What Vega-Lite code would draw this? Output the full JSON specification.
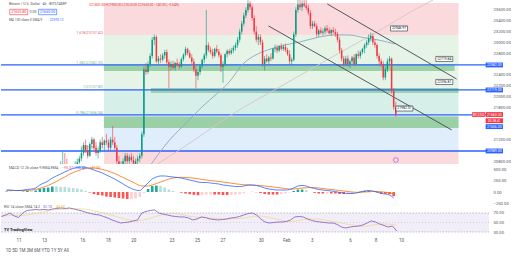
{
  "$schema": "https://vega.github.io/schema/vega-lite/v6.json",
  "padding": 0,
  "background": "white",
  "spacing": 0,
  "bounds": "flush",
  "config": {"font": "Roboto", "view": {"stroke": null}, "axis": {"labelOverlap": false}},
  "resolve": {"scale": {"y": "independent", "color": "independent"}},
  "datasets": {
    "candles": [
      {"t":"2023-01-14T00:00","o":20650,"h":20800,"l":20550,"c":20700},
      {"t":"2023-01-14T04:00","o":20700,"h":20980,"l":20650,"c":20750},
      {"t":"2023-01-14T08:00","o":20750,"h":20950,"l":20600,"c":20650},
      {"t":"2023-01-14T12:00","o":20650,"h":20850,"l":20500,"c":20600},
      {"t":"2023-01-14T16:00","o":20600,"h":20700,"l":20450,"c":20550},
      {"t":"2023-01-14T20:00","o":20550,"h":20650,"l":20400,"c":20500},
      {"t":"2023-01-15T00:00","o":20500,"h":20700,"l":20400,"c":20650},
      {"t":"2023-01-15T04:00","o":20650,"h":20800,"l":20550,"c":20700},
      {"t":"2023-01-15T08:00","o":20700,"h":20850,"l":20600,"c":20780},
      {"t":"2023-01-15T12:00","o":20780,"h":20900,"l":20700,"c":20850},
      {"t":"2023-01-15T16:00","o":20850,"h":21050,"l":20800,"c":20950},
      {"t":"2023-01-15T20:00","o":20950,"h":21150,"l":20900,"c":21100},
      {"t":"2023-01-16T00:00","o":21100,"h":21200,"l":20950,"c":21000},
      {"t":"2023-01-16T04:00","o":21000,"h":21100,"l":20850,"c":20900},
      {"t":"2023-01-16T08:00","o":20900,"h":21150,"l":20880,"c":21120},
      {"t":"2023-01-16T12:00","o":21120,"h":21250,"l":21050,"c":21200},
      {"t":"2023-01-16T16:00","o":21200,"h":21230,"l":21000,"c":21050},
      {"t":"2023-01-16T20:00","o":21050,"h":21150,"l":20900,"c":20950},
      {"t":"2023-01-17T00:00","o":20950,"h":21050,"l":20850,"c":21000},
      {"t":"2023-01-17T04:00","o":21000,"h":21200,"l":20950,"c":21150},
      {"t":"2023-01-17T08:00","o":21150,"h":21250,"l":21050,"c":21100},
      {"t":"2023-01-17T12:00","o":21100,"h":21200,"l":21000,"c":21180},
      {"t":"2023-01-17T16:00","o":21180,"h":21300,"l":21100,"c":21150},
      {"t":"2023-01-17T20:00","o":21150,"h":21200,"l":21000,"c":21050},
      {"t":"2023-01-18T00:00","o":21050,"h":21250,"l":21000,"c":21200},
      {"t":"2023-01-18T04:00","o":21200,"h":21450,"l":21100,"c":21150},
      {"t":"2023-01-18T08:00","o":21150,"h":21250,"l":21000,"c":21050},
      {"t":"2023-01-18T12:00","o":21050,"h":21100,"l":20750,"c":20800},
      {"t":"2023-01-18T16:00","o":20800,"h":20900,"l":20650,"c":20700},
      {"t":"2023-01-18T20:00","o":20700,"h":20800,"l":20600,"c":20750},
      {"t":"2023-01-19T00:00","o":20750,"h":20850,"l":20650,"c":20800},
      {"t":"2023-01-19T04:00","o":20800,"h":20950,"l":20750,"c":20900},
      {"t":"2023-01-19T08:00","o":20900,"h":20950,"l":20750,"c":20800},
      {"t":"2023-01-19T12:00","o":20800,"h":20920,"l":20700,"c":20880},
      {"t":"2023-01-19T16:00","o":20880,"h":20950,"l":20780,"c":20820},
      {"t":"2023-01-19T20:00","o":20820,"h":20900,"l":20700,"c":20750},
      {"t":"2023-01-20T00:00","o":20750,"h":20850,"l":20650,"c":20800},
      {"t":"2023-01-20T04:00","o":20800,"h":20900,"l":20700,"c":20850},
      {"t":"2023-01-20T08:00","o":20850,"h":20950,"l":20780,"c":20900},
      {"t":"2023-01-20T12:00","o":20900,"h":21350,"l":20850,"c":21300},
      {"t":"2023-01-20T16:00","o":21300,"h":22550,"l":21250,"c":22500},
      {"t":"2023-01-20T20:00","o":22500,"h":22620,"l":22400,"c":22450},
      {"t":"2023-01-21T00:00","o":22450,"h":22650,"l":22420,"c":22600},
      {"t":"2023-01-21T04:00","o":22600,"h":22800,"l":22550,"c":22750},
      {"t":"2023-01-21T08:00","o":22750,"h":23100,"l":22700,"c":23050},
      {"t":"2023-01-21T12:00","o":23050,"h":23150,"l":22950,"c":23100},
      {"t":"2023-01-21T16:00","o":23100,"h":23130,"l":22620,"c":22650},
      {"t":"2023-01-21T20:00","o":22650,"h":22750,"l":22600,"c":22700},
      {"t":"2023-01-22T00:00","o":22700,"h":22780,"l":22620,"c":22680},
      {"t":"2023-01-22T04:00","o":22680,"h":22800,"l":22650,"c":22760},
      {"t":"2023-01-22T08:00","o":22760,"h":22860,"l":22700,"c":22820},
      {"t":"2023-01-22T12:00","o":22820,"h":22870,"l":22600,"c":22630},
      {"t":"2023-01-22T16:00","o":22630,"h":22680,"l":22150,"c":22550},
      {"t":"2023-01-22T20:00","o":22550,"h":22650,"l":22480,"c":22600},
      {"t":"2023-01-23T00:00","o":22600,"h":22660,"l":22500,"c":22530},
      {"t":"2023-01-23T04:00","o":22530,"h":22640,"l":22480,"c":22620},
      {"t":"2023-01-23T08:00","o":22620,"h":22700,"l":22560,"c":22580},
      {"t":"2023-01-23T12:00","o":22580,"h":22640,"l":22500,"c":22550},
      {"t":"2023-01-23T16:00","o":22550,"h":22720,"l":22530,"c":22690},
      {"t":"2023-01-23T20:00","o":22690,"h":22800,"l":22650,"c":22770},
      {"t":"2023-01-24T00:00","o":22770,"h":22920,"l":22740,"c":22880},
      {"t":"2023-01-24T04:00","o":22880,"h":22900,"l":22760,"c":22800},
      {"t":"2023-01-24T08:00","o":22800,"h":22850,"l":22700,"c":22720},
      {"t":"2023-01-24T12:00","o":22720,"h":22780,"l":22600,"c":22640},
      {"t":"2023-01-24T16:00","o":22640,"h":22700,"l":22450,"c":22500},
      {"t":"2023-01-24T20:00","o":22500,"h":22560,"l":22150,"c":22380},
      {"t":"2023-01-25T00:00","o":22380,"h":22500,"l":22300,"c":22450},
      {"t":"2023-01-25T04:00","o":22450,"h":22600,"l":22400,"c":22560},
      {"t":"2023-01-25T08:00","o":22560,"h":22700,"l":22520,"c":22680},
      {"t":"2023-01-25T12:00","o":22680,"h":22800,"l":22620,"c":22760},
      {"t":"2023-01-25T16:00","o":22760,"h":23600,"l":22700,"c":22950},
      {"t":"2023-01-25T20:00","o":22950,"h":23000,"l":22820,"c":22860},
      {"t":"2023-01-26T00:00","o":22860,"h":22920,"l":22780,"c":22820},
      {"t":"2023-01-26T04:00","o":22820,"h":22880,"l":22700,"c":22750},
      {"t":"2023-01-26T08:00","o":22750,"h":22900,"l":22720,"c":22880},
      {"t":"2023-01-26T12:00","o":22880,"h":22950,"l":22800,"c":22830},
      {"t":"2023-01-26T16:00","o":22830,"h":22880,"l":22720,"c":22760},
      {"t":"2023-01-26T20:00","o":22760,"h":22800,"l":22450,"c":22550},
      {"t":"2023-01-27T00:00","o":22550,"h":22650,"l":22250,"c":22600},
      {"t":"2023-01-27T04:00","o":22600,"h":22800,"l":22560,"c":22780},
      {"t":"2023-01-27T08:00","o":22780,"h":22870,"l":22720,"c":22840},
      {"t":"2023-01-27T12:00","o":22840,"h":22880,"l":22760,"c":22800},
      {"t":"2023-01-27T16:00","o":22800,"h":22900,"l":22770,"c":22850},
      {"t":"2023-01-27T20:00","o":22850,"h":22940,"l":22800,"c":22900},
      {"t":"2023-01-28T00:00","o":22900,"h":23000,"l":22850,"c":22950},
      {"t":"2023-01-28T04:00","o":22950,"h":23100,"l":22900,"c":23050},
      {"t":"2023-01-28T08:00","o":23050,"h":23250,"l":23000,"c":23200},
      {"t":"2023-01-28T12:00","o":23200,"h":23400,"l":23150,"c":23350},
      {"t":"2023-01-28T16:00","o":23350,"h":23550,"l":23300,"c":23500},
      {"t":"2023-01-28T20:00","o":23500,"h":23650,"l":23450,"c":23600},
      {"t":"2023-01-29T00:00","o":23600,"h":23800,"l":23550,"c":23720},
      {"t":"2023-01-29T04:00","o":23720,"h":23760,"l":23600,"c":23650},
      {"t":"2023-01-29T08:00","o":23650,"h":23700,"l":23400,"c":23450},
      {"t":"2023-01-29T12:00","o":23450,"h":23500,"l":23150,"c":23200},
      {"t":"2023-01-29T16:00","o":23200,"h":23300,"l":23000,"c":23050},
      {"t":"2023-01-29T20:00","o":23050,"h":23150,"l":22950,"c":23100},
      {"t":"2023-01-30T00:00","o":23100,"h":23150,"l":22950,"c":23000},
      {"t":"2023-01-30T04:00","o":23000,"h":23050,"l":22550,"c":22600},
      {"t":"2023-01-30T08:00","o":22600,"h":22750,"l":22480,"c":22700},
      {"t":"2023-01-30T12:00","o":22700,"h":22780,"l":22620,"c":22650},
      {"t":"2023-01-30T16:00","o":22650,"h":22750,"l":22600,"c":22720},
      {"t":"2023-01-30T20:00","o":22720,"h":22800,"l":22650,"c":22700},
      {"t":"2023-01-31T00:00","o":22700,"h":22900,"l":22680,"c":22880},
      {"t":"2023-01-31T04:00","o":22880,"h":22960,"l":22820,"c":22900},
      {"t":"2023-01-31T08:00","o":22900,"h":22950,"l":22800,"c":22850},
      {"t":"2023-01-31T12:00","o":22850,"h":22950,"l":22820,"c":22930},
      {"t":"2023-01-31T16:00","o":22930,"h":22980,"l":22850,"c":22880},
      {"t":"2023-01-31T20:00","o":22880,"h":22960,"l":22840,"c":22920},
      {"t":"2023-02-01T00:00","o":22920,"h":22980,"l":22820,"c":22860},
      {"t":"2023-02-01T04:00","o":22860,"h":22900,"l":22750,"c":22780},
      {"t":"2023-02-01T08:00","o":22780,"h":22850,"l":22600,"c":22650},
      {"t":"2023-02-01T12:00","o":22650,"h":22720,"l":22580,"c":22680},
      {"t":"2023-02-01T16:00","o":22680,"h":23200,"l":22650,"c":23150},
      {"t":"2023-02-01T20:00","o":23150,"h":23650,"l":23100,"c":23600},
      {"t":"2023-02-02T00:00","o":23600,"h":23800,"l":23550,"c":23700},
      {"t":"2023-02-02T04:00","o":23700,"h":23800,"l":23600,"c":23650},
      {"t":"2023-02-02T08:00","o":23650,"h":23780,"l":23580,"c":23720},
      {"t":"2023-02-02T12:00","o":23720,"h":23800,"l":23650,"c":23680},
      {"t":"2023-02-02T16:00","o":23680,"h":23780,"l":23600,"c":23640},
      {"t":"2023-02-02T20:00","o":23640,"h":23700,"l":23500,"c":23550},
      {"t":"2023-02-03T00:00","o":23550,"h":23600,"l":23250,"c":23300},
      {"t":"2023-02-03T04:00","o":23300,"h":23400,"l":23250,"c":23350},
      {"t":"2023-02-03T08:00","o":23350,"h":23400,"l":23280,"c":23300},
      {"t":"2023-02-03T12:00","o":23300,"h":23350,"l":23100,"c":23150},
      {"t":"2023-02-03T16:00","o":23150,"h":23250,"l":23100,"c":23220},
      {"t":"2023-02-03T20:00","o":23220,"h":23280,"l":23150,"c":23180},
      {"t":"2023-02-04T00:00","o":23180,"h":23250,"l":23130,"c":23200},
      {"t":"2023-02-04T04:00","o":23200,"h":23300,"l":23150,"c":23260},
      {"t":"2023-02-04T08:00","o":23260,"h":23320,"l":23180,"c":23220},
      {"t":"2023-02-04T12:00","o":23220,"h":23280,"l":23150,"c":23170},
      {"t":"2023-02-04T16:00","o":23170,"h":23250,"l":23120,"c":23230},
      {"t":"2023-02-04T20:00","o":23230,"h":23280,"l":23160,"c":23190},
      {"t":"2023-02-05T00:00","o":23190,"h":23250,"l":23100,"c":23150},
      {"t":"2023-02-05T04:00","o":23150,"h":23200,"l":23000,"c":23050},
      {"t":"2023-02-05T08:00","o":23050,"h":23100,"l":22800,"c":22850},
      {"t":"2023-02-05T12:00","o":22850,"h":22900,"l":22650,"c":22700},
      {"t":"2023-02-05T16:00","o":22700,"h":22750,"l":22550,"c":22600},
      {"t":"2023-02-05T20:00","o":22600,"h":22750,"l":22560,"c":22700},
      {"t":"2023-02-06T00:00","o":22700,"h":22760,"l":22550,"c":22600},
      {"t":"2023-02-06T04:00","o":22600,"h":22680,"l":22520,"c":22650},
      {"t":"2023-02-06T08:00","o":22650,"h":22750,"l":22600,"c":22720},
      {"t":"2023-02-06T12:00","o":22720,"h":22780,"l":22560,"c":22600},
      {"t":"2023-02-06T16:00","o":22600,"h":22800,"l":22580,"c":22780},
      {"t":"2023-02-06T20:00","o":22780,"h":22850,"l":22700,"c":22750},
      {"t":"2023-02-07T00:00","o":22750,"h":22850,"l":22700,"c":22820},
      {"t":"2023-02-07T04:00","o":22820,"h":22900,"l":22780,"c":22880},
      {"t":"2023-02-07T08:00","o":22880,"h":22980,"l":22800,"c":22950},
      {"t":"2023-02-07T12:00","o":22950,"h":23050,"l":22900,"c":23000},
      {"t":"2023-02-07T16:00","o":23000,"h":23150,"l":22950,"c":23080},
      {"t":"2023-02-07T20:00","o":23080,"h":23180,"l":23020,"c":23120},
      {"t":"2023-02-08T00:00","o":23120,"h":23160,"l":22950,"c":23000},
      {"t":"2023-02-08T04:00","o":23000,"h":23050,"l":22900,"c":22950},
      {"t":"2023-02-08T08:00","o":22950,"h":22980,"l":22700,"c":22750},
      {"t":"2023-02-08T12:00","o":22750,"h":22800,"l":22600,"c":22650},
      {"t":"2023-02-08T16:00","o":22650,"h":22700,"l":22550,"c":22600},
      {"t":"2023-02-08T20:00","o":22600,"h":22650,"l":22300,"c":22350},
      {"t":"2023-02-09T00:00","o":22350,"h":22550,"l":22300,"c":22500},
      {"t":"2023-02-09T04:00","o":22500,"h":22700,"l":22450,"c":22650},
      {"t":"2023-02-09T08:00","o":22650,"h":22750,"l":22580,"c":22700},
      {"t":"2023-02-09T12:00","o":22700,"h":22720,"l":22050,"c":22100},
      {"t":"2023-02-09T16:00","o":22100,"h":22150,"l":21750,"c":21800},
      {"t":"2023-02-09T20:00","o":21800,"h":21900,"l":21620,"c":21660}
    ],
    "zones": [
      {"zone":"1.618-2","t1":"2023-01-17T11:14","t2":"2023-02-14T20:36","p1":23137,"p2":23730},
      {"zone":"1.382-1.618","t1":"2023-01-17T11:14","t2":"2023-02-14T20:36","p1":22582,"p2":23137},
      {"zone":"1-1.382","t1":"2023-01-17T11:14","t2":"2023-02-14T20:36","p1":22137,"p2":22582},
      {"zone":"0.786-1","t1":"2023-01-17T11:14","t2":"2023-02-14T20:36","p1":21656,"p2":22137},
      {"zone":"0.5-0.786","t1":"2023-01-17T11:14","t2":"2023-02-14T20:36","p1":21007,"p2":21656},
      {"zone":"0-0.5","t1":"2023-01-17T11:14","t2":"2023-02-14T20:36","p1":20748,"p2":21007}
    ],
    "strips": [
      {"name":"support A","t1":"2023-01-17T11:14","t2":"2023-02-14T13:06","p1":22470,"p2":22590},
      {"name":"support B","t1":"2023-01-21T05:36","t2":"2023-02-14T20:36","p1":22063,"p2":22156},
      {"name":"support C","t1":"2023-01-17T11:14","t2":"2023-02-14T20:36","p1":21415,"p2":21628}
    ],
    "levels": [
      {"ratio":"1.618","p":23137,"label":"1.618(23137.42)"},
      {"ratio":"1.382","p":22582,"label":"1.382(22582.35)"},
      {"ratio":"1","p":22137,"label":"1(22137.80)"},
      {"ratio":"0.786","p":21656,"label":"0.786(21656.04)"},
      {"ratio":"0.5","p":21007,"label":"0.5(21007.11)"}
    ],
    "hlines": [
      {"p":22582,"label":"22582.00"},
      {"p":22119,"label":"22119.00"},
      {"p":21656,"label":"21656.00"},
      {"p":20989,"label":"20989.00"}
    ],
    "ma": [
      {"ma":"MA 100","t":"2023-01-21T00:56","p":20674},
      {"ma":"MA 100","t":"2023-01-22T17:24","p":21193},
      {"ma":"MA 100","t":"2023-01-24T03:12","p":21526},
      {"ma":"MA 100","t":"2023-01-25T07:30","p":21804},
      {"ma":"MA 100","t":"2023-01-26T11:42","p":22044},
      {"ma":"MA 100","t":"2023-01-27T10:18","p":22248},
      {"ma":"MA 100","t":"2023-01-28T16:24","p":22619},
      {"ma":"MA 100","t":"2023-01-29T15:00","p":22767},
      {"ma":"MA 100","t":"2023-01-30T13:36","p":22859},
      {"ma":"MA 100","t":"2023-01-31T23:30","p":22952},
      {"ma":"MA 100","t":"2023-02-02T03:42","p":23008},
      {"ma":"MA 100","t":"2023-02-03T17:24","p":23100},
      {"ma":"MA 100","t":"2023-02-04T21:36","p":23137},
      {"ma":"MA 100","t":"2023-02-06T01:48","p":23137},
      {"ma":"MA 100","t":"2023-02-07T09:48","p":23082},
      {"ma":"MA 100","t":"2023-02-08T10:18","p":23045},
      {"ma":"MA 100","t":"2023-02-09T18:18","p":22970},
      {"ma":"MA 200","t":"2023-01-21T05:36","p":20674},
      {"ma":"MA 200","t":"2023-01-23T12:12","p":21007},
      {"ma":"MA 200","t":"2023-01-27T21:36","p":21693},
      {"ma":"MA 200","t":"2023-01-31T19:42","p":22211},
      {"ma":"MA 200","t":"2023-02-04T17:48","p":22730},
      {"ma":"MA 200","t":"2023-02-07T21:06","p":23137},
      {"ma":"MA 200","t":"2023-02-12T08:24","p":23730},
      {"ma":"MA 200","t":"2023-02-12T19:42","p":23785}
    ],
    "channel": [
      {"name":"upper","t1":"2023-02-04T08:24","p1":23711,"t2":"2023-02-14T16:54","p2":22322},
      {"name":"lower","t1":"2023-01-30T15:30","p1":23304,"t2":"2023-02-14T07:30","p2":21378}
    ],
    "callouts": [
      {"label":"22946.97","t":"2023-02-10T02:18","p":23258},
      {"label":"22719.84","t":"2023-02-13T17:18","p":22693},
      {"label":"22396.81","t":"2023-02-13T17:18","p":22267},
      {"label":"21982.37","t":"2023-02-10T12:36","p":21776}
    ],
    "ind": [
      {"t":"2023-01-09T16:00","m":45,"s":34,"h":11,"trend":"up","r":62.6,"rm":64},
      {"t":"2023-01-10T00:00","m":45,"s":34,"h":11,"trend":"down","r":65.8,"rm":64},
      {"t":"2023-01-10T08:00","m":34,"s":34,"h":0,"trend":"down","r":70,"rm":64.5},
      {"t":"2023-01-10T16:00","m":34,"s":34,"h":0,"trend":"down","r":63.7,"rm":65},
      {"t":"2023-01-11T00:00","m":45,"s":34,"h":11,"trend":"up","r":60.5,"rm":64.5},
      {"t":"2023-01-11T08:00","m":57,"s":34,"h":23,"trend":"up","r":70,"rm":65},
      {"t":"2023-01-11T16:00","m":68,"s":45,"h":23,"trend":"down","r":75.3,"rm":66},
      {"t":"2023-01-12T00:00","m":91,"s":57,"h":34,"trend":"up","r":76.3,"rm":67.5},
      {"t":"2023-01-12T08:00","m":159,"s":80,"h":79,"trend":"up","r":77.4,"rm":69},
      {"t":"2023-01-12T16:00","m":205,"s":114,"h":91,"trend":"up","r":76.3,"rm":70.5},
      {"t":"2023-01-13T00:00","m":250,"s":148,"h":102,"trend":"up","r":77.4,"rm":72.5},
      {"t":"2023-01-13T08:00","m":318,"s":193,"h":125,"trend":"up","r":76.3,"rm":74.5},
      {"t":"2023-01-13T16:00","m":364,"s":239,"h":125,"trend":"down","r":78.4,"rm":76},
      {"t":"2023-01-14T00:00","m":409,"s":295,"h":114,"trend":"down","r":79.5,"rm":77},
      {"t":"2023-01-14T08:00","m":455,"s":341,"h":114,"trend":"down","r":80.5,"rm":77.5},
      {"t":"2023-01-14T16:00","m":500,"s":398,"h":102,"trend":"down","r":79.5,"rm":78},
      {"t":"2023-01-15T00:00","m":534,"s":443,"h":91,"trend":"down","r":80.5,"rm":78.5},
      {"t":"2023-01-15T08:00","m":557,"s":477,"h":80,"trend":"down","r":78.4,"rm":79},
      {"t":"2023-01-15T16:00","m":568,"s":511,"h":57,"trend":"down","r":76.3,"rm":79},
      {"t":"2023-01-16T00:00","m":557,"s":534,"h":23,"trend":"down","r":74.2,"rm":78.5},
      {"t":"2023-01-16T08:00","m":534,"s":546,"h":-12,"trend":"down","r":71,"rm":77.5},
      {"t":"2023-01-16T16:00","m":500,"s":546,"h":-46,"trend":"down","r":68.9,"rm":76},
      {"t":"2023-01-17T00:00","m":466,"s":534,"h":-68,"trend":"down","r":66.8,"rm":74},
      {"t":"2023-01-17T08:00","m":432,"s":511,"h":-79,"trend":"down","r":65.8,"rm":72},
      {"t":"2023-01-17T16:00","m":386,"s":489,"h":-103,"trend":"down","r":62.6,"rm":70},
      {"t":"2023-01-18T00:00","m":341,"s":455,"h":-114,"trend":"down","r":59.5,"rm":67.5},
      {"t":"2023-01-18T08:00","m":295,"s":420,"h":-125,"trend":"down","r":55.3,"rm":65},
      {"t":"2023-01-18T16:00","m":239,"s":375,"h":-136,"trend":"down","r":52.1,"rm":62.5},
      {"t":"2023-01-19T00:00","m":182,"s":330,"h":-148,"trend":"down","r":48.9,"rm":60},
      {"t":"2023-01-19T08:00","m":125,"s":284,"h":-159,"trend":"down","r":50,"rm":57.5},
      {"t":"2023-01-19T16:00","m":80,"s":239,"h":-159,"trend":"up","r":51,"rm":55.5},
      {"t":"2023-01-20T00:00","m":45,"s":193,"h":-148,"trend":"up","r":53.2,"rm":54},
      {"t":"2023-01-20T08:00","m":34,"s":148,"h":-114,"trend":"up","r":55.3,"rm":53},
      {"t":"2023-01-20T16:00","m":114,"s":136,"h":-22,"trend":"up","r":70,"rm":54.5},
      {"t":"2023-01-21T00:00","m":205,"s":136,"h":69,"trend":"up","r":73.2,"rm":56.5},
      {"t":"2023-01-21T08:00","m":295,"s":159,"h":136,"trend":"up","r":75.3,"rm":59},
      {"t":"2023-01-21T16:00","m":341,"s":193,"h":148,"trend":"up","r":76.3,"rm":62},
      {"t":"2023-01-22T00:00","m":364,"s":227,"h":137,"trend":"down","r":70,"rm":64.5},
      {"t":"2023-01-22T08:00","m":364,"s":261,"h":103,"trend":"down","r":67.9,"rm":66.5},
      {"t":"2023-01-22T16:00","m":352,"s":295,"h":57,"trend":"down","r":65.8,"rm":68.5},
      {"t":"2023-01-23T00:00","m":341,"s":318,"h":23,"trend":"down","r":63.7,"rm":69.5},
      {"t":"2023-01-23T08:00","m":330,"s":330,"h":0,"trend":"down","r":62.6,"rm":69},
      {"t":"2023-01-23T16:00","m":318,"s":334,"h":-16,"trend":"down","r":61.6,"rm":67.5},
      {"t":"2023-01-24T00:00","m":295,"s":330,"h":-35,"trend":"down","r":61.6,"rm":65.5},
      {"t":"2023-01-24T08:00","m":273,"s":323,"h":-50,"trend":"down","r":59.5,"rm":63.5},
      {"t":"2023-01-24T16:00","m":250,"s":314,"h":-64,"trend":"down","r":55.3,"rm":62},
      {"t":"2023-01-25T00:00","m":227,"s":300,"h":-73,"trend":"down","r":57.4,"rm":61},
      {"t":"2023-01-25T08:00","m":216,"s":284,"h":-68,"trend":"up","r":61.6,"rm":60.5},
      {"t":"2023-01-25T16:00","m":216,"s":273,"h":-57,"trend":"up","r":60.5,"rm":60},
      {"t":"2023-01-26T00:00","m":205,"s":261,"h":-56,"trend":"up","r":57.4,"rm":59.5},
      {"t":"2023-01-26T08:00","m":193,"s":250,"h":-57,"trend":"down","r":56.3,"rm":59},
      {"t":"2023-01-26T16:00","m":182,"s":239,"h":-57,"trend":"down","r":55.3,"rm":58.5},
      {"t":"2023-01-27T00:00","m":159,"s":227,"h":-68,"trend":"down","r":56.3,"rm":58},
      {"t":"2023-01-27T08:00","m":148,"s":216,"h":-68,"trend":"down","r":57.4,"rm":57.5},
      {"t":"2023-01-27T16:00","m":136,"s":200,"h":-64,"trend":"up","r":59.5,"rm":57.5},
      {"t":"2023-01-28T00:00","m":125,"s":186,"h":-61,"trend":"up","r":60.5,"rm":58},
      {"t":"2023-01-28T08:00","m":125,"s":175,"h":-50,"trend":"up","r":62.6,"rm":58.5},
      {"t":"2023-01-28T16:00","m":136,"s":164,"h":-28,"trend":"up","r":65.8,"rm":59.5},
      {"t":"2023-01-29T00:00","m":159,"s":159,"h":0,"trend":"up","r":68.9,"rm":61},
      {"t":"2023-01-29T08:00","m":159,"s":155,"h":4,"trend":"up","r":70,"rm":62.5},
      {"t":"2023-01-29T16:00","m":148,"s":152,"h":-4,"trend":"down","r":65.8,"rm":63.5},
      {"t":"2023-01-30T00:00","m":125,"s":148,"h":-23,"trend":"down","r":57.4,"rm":63.5},
      {"t":"2023-01-30T08:00","m":91,"s":136,"h":-45,"trend":"down","r":51,"rm":62.5},
      {"t":"2023-01-30T16:00","m":68,"s":125,"h":-57,"trend":"down","r":48.9,"rm":60.5},
      {"t":"2023-01-31T00:00","m":57,"s":114,"h":-57,"trend":"down","r":50,"rm":58.5},
      {"t":"2023-01-31T08:00","m":45,"s":102,"h":-57,"trend":"down","r":51,"rm":56.5},
      {"t":"2023-01-31T16:00","m":45,"s":91,"h":-46,"trend":"up","r":51,"rm":54.5},
      {"t":"2023-02-01T00:00","m":45,"s":80,"h":-35,"trend":"up","r":52.1,"rm":52.5},
      {"t":"2023-02-01T08:00","m":57,"s":68,"h":-11,"trend":"up","r":55.3,"rm":52},
      {"t":"2023-02-01T16:00","m":91,"s":68,"h":23,"trend":"up","r":61.6,"rm":53},
      {"t":"2023-02-02T00:00","m":136,"s":80,"h":56,"trend":"up","r":62.6,"rm":54.5},
      {"t":"2023-02-02T08:00","m":148,"s":91,"h":57,"trend":"up","r":61.6,"rm":56},
      {"t":"2023-02-02T16:00","m":136,"s":95,"h":41,"trend":"down","r":57.4,"rm":57},
      {"t":"2023-02-03T00:00","m":102,"s":102,"h":0,"trend":"down","r":54.2,"rm":57.5},
      {"t":"2023-02-03T08:00","m":80,"s":100,"h":-20,"trend":"down","r":52.1,"rm":57.5},
      {"t":"2023-02-03T16:00","m":57,"s":91,"h":-34,"trend":"down","r":51,"rm":56.5},
      {"t":"2023-02-04T00:00","m":45,"s":80,"h":-35,"trend":"down","r":50,"rm":55},
      {"t":"2023-02-04T08:00","m":34,"s":68,"h":-34,"trend":"up","r":48.9,"rm":53.5},
      {"t":"2023-02-04T16:00","m":23,"s":57,"h":-34,"trend":"down","r":48.9,"rm":52},
      {"t":"2023-02-05T00:00","m":11,"s":45,"h":-34,"trend":"down","r":45.8,"rm":50.5},
      {"t":"2023-02-05T08:00","m":-11,"s":34,"h":-45,"trend":"down","r":40.5,"rm":49},
      {"t":"2023-02-05T16:00","m":-23,"s":23,"h":-46,"trend":"down","r":38.4,"rm":47},
      {"t":"2023-02-06T00:00","m":-34,"s":11,"h":-45,"trend":"up","r":40.5,"rm":45.5},
      {"t":"2023-02-06T08:00","m":-34,"s":0,"h":-34,"trend":"up","r":41.6,"rm":44},
      {"t":"2023-02-06T16:00","m":-23,"s":-7,"h":-16,"trend":"up","r":42.6,"rm":42.5},
      {"t":"2023-02-07T00:00","m":0,"s":-7,"h":7,"trend":"up","r":44.7,"rm":42},
      {"t":"2023-02-07T08:00","m":23,"s":0,"h":23,"trend":"up","r":48.9,"rm":42.5},
      {"t":"2023-02-07T16:00","m":34,"s":5,"h":29,"trend":"up","r":53.2,"rm":44},
      {"t":"2023-02-08T00:00","m":23,"s":11,"h":12,"trend":"down","r":51,"rm":45.5},
      {"t":"2023-02-08T08:00","m":0,"s":11,"h":-11,"trend":"down","r":46.8,"rm":46.5},
      {"t":"2023-02-08T16:00","m":-34,"s":5,"h":-39,"trend":"down","r":43.7,"rm":47},
      {"t":"2023-02-09T00:00","m":-45,"s":-5,"h":-40,"trend":"down","r":40.5,"rm":46.5},
      {"t":"2023-02-09T08:00","m":-68,"s":-18,"h":-50,"trend":"down","r":42.6,"rm":46},
      {"t":"2023-02-09T16:00","m":-136,"s":-41,"h":-95,"trend":"down","r":32.1,"rm":44.5}
    ]
  },
  "vconcat": [
    {
      "width": 488,
      "height": 164,
      "resolve": {"scale": {"color": "independent"}},
      "layer": [
        {
          "data": {"name": "zones"},
          "mark": {"type": "rect"},
          "encoding": {
            "x": {"field": "t1", "type": "temporal", "scale": {"domain": [{"year":2023,"month":1,"date":9,"hours":15},{"year":2023,"month":2,"date":16,"hours":21,"minutes":35}]}, "axis": null},
            "x2": {"field": "t2"},
            "y": {"field": "p1", "type": "quantitative", "scale": {"domain": [20748, 23785], "nice": false, "zero": false},
                  "axis": {"orient": "right", "values": [20800,21200,21800,22000,22200,22400,22800,23000,23200,23400,23600], "tickCount": 60, "format": ".2f", "labelFontSize": 4.2, "labelColor": "#50535e", "labelPadding": 4, "ticks": false, "domain": false, "grid": false, "title": null, "labelOverlap": false}},
            "y2": {"field": "p2"},
            "color": {"field": "zone", "type": "nominal", "legend": null,
                      "scale": {"domain": ["1.618-2","1.382-1.618","1-1.382","0.786-1","0.5-0.786","0-0.5"], "range": ["#fadadd","#e6f4e8","#e6f4e8","#d6efe8","#e0edfa","#fadadd"]}}
          }
        },
        {
          "data": {"name": "strips"},
          "mark": {"type": "rect", "color": "#97cfa2", "opacity": 0.95},
          "encoding": {
            "x": {"field": "t1", "type": "temporal", "scale": {"domain": [{"year":2023,"month":1,"date":9,"hours":15},{"year":2023,"month":2,"date":16,"hours":21,"minutes":35}]}, "axis": null},
            "x2": {"field": "t2"},
            "y": {"field": "p1", "type": "quantitative", "scale": {"domain": [20748, 23785], "nice": false, "zero": false}},
            "y2": {"field": "p2"}
          }
        },
        {
          "data": {"name": "levels"},
          "mark": {"type": "text", "align": "right", "baseline": "bottom", "fontSize": 3.6, "dx": -1, "dy": -0.3},
          "encoding": {
            "x": {"datum": {"year":2023,"month":1,"date":17,"hours":11,"minutes":14}, "type": "temporal", "scale": {"domain": [{"year":2023,"month":1,"date":9,"hours":15},{"year":2023,"month":2,"date":16,"hours":21,"minutes":35}]}, "axis": null},
            "y": {"field": "p", "type": "quantitative", "scale": {"domain": [20748, 23785], "nice": false, "zero": false}},
            "text": {"field": "label"},
            "color": {"field": "ratio", "type": "nominal", "legend": null,
                      "scale": {"domain": ["1.618","1.382","1","0.786","0.5"], "range": ["#e35d6a","#7fb98a","#7fb98a","#5fae9f","#8c9bb3"]}}
          }
        },
        {
          "data": {"name": "hlines"},
          "mark": {"type": "rule", "color": "#2962ff", "strokeWidth": 1.3},
          "encoding": {
            "y": {"field": "p", "type": "quantitative", "scale": {"domain": [20748, 23785], "nice": false, "zero": false}}
          }
        },
        {
          "data": {"name": "ma"},
          "transform": [{"filter": "datum.ma == 'MA 200'"}],
          "mark": {"type": "line", "color": "#d9c3cb", "strokeWidth": 0.9, "clip": true, "interpolate": "monotone"},
          "encoding": {
            "x": {"field": "t", "type": "temporal", "scale": {"domain": [{"year":2023,"month":1,"date":9,"hours":15},{"year":2023,"month":2,"date":16,"hours":21,"minutes":35}]}, "axis": null},
            "y": {"field": "p", "type": "quantitative", "scale": {"domain": [20748, 23785], "nice": false, "zero": false}}
          }
        },
        {
          "data": {"name": "ma"},
          "transform": [{"filter": "datum.ma == 'MA 100'"}],
          "mark": {"type": "line", "color": "#8ea4c2", "strokeWidth": 0.9, "clip": true, "interpolate": "monotone"},
          "encoding": {
            "x": {"field": "t", "type": "temporal", "scale": {"domain": [{"year":2023,"month":1,"date":9,"hours":15},{"year":2023,"month":2,"date":16,"hours":21,"minutes":35}]}, "axis": null},
            "y": {"field": "p", "type": "quantitative", "scale": {"domain": [20748, 23785], "nice": false, "zero": false}}
          }
        },
        {
          "data": {"name": "channel"},
          "mark": {"type": "rule", "color": "#434651", "strokeWidth": 0.9, "clip": true},
          "encoding": {
            "x": {"field": "t1", "type": "temporal", "scale": {"domain": [{"year":2023,"month":1,"date":9,"hours":15},{"year":2023,"month":2,"date":16,"hours":21,"minutes":35}]}, "axis": null},
            "x2": {"field": "t2"},
            "y": {"field": "p1", "type": "quantitative", "scale": {"domain": [20748, 23785], "nice": false, "zero": false}},
            "y2": {"field": "p2"}
          }
        },
        {
          "data": {"name": "candles"},
          "mark": {"type": "rule", "strokeWidth": 0.6, "clip": true},
          "encoding": {
            "x": {"field": "t", "type": "temporal", "scale": {"domain": [{"year":2023,"month":1,"date":9,"hours":15},{"year":2023,"month":2,"date":16,"hours":21,"minutes":35}]}, "axis": null},
            "y": {"field": "l", "type": "quantitative", "scale": {"domain": [20748, 23785], "nice": false, "zero": false}},
            "y2": {"field": "h"},
            "color": {"condition": {"test": "datum.c >= datum.o", "value": "#089981"}, "value": "#f23645"}
          }
        },
        {
          "data": {"name": "candles"},
          "mark": {"type": "bar", "size": 1.5, "clip": true},
          "encoding": {
            "x": {"field": "t", "type": "temporal", "scale": {"domain": [{"year":2023,"month":1,"date":9,"hours":15},{"year":2023,"month":2,"date":16,"hours":21,"minutes":35}]}, "axis": null},
            "y": {"field": "o", "type": "quantitative", "scale": {"domain": [20748, 23785], "nice": false, "zero": false}},
            "y2": {"field": "c"},
            "color": {"condition": {"test": "datum.c >= datum.o", "value": "#089981"}, "value": "#f23645"}
          }
        },
        {
          "data": {"name": "callouts"},
          "encoding": {
            "x": {"field": "t", "type": "temporal", "scale": {"domain": [{"year":2023,"month":1,"date":9,"hours":15},{"year":2023,"month":2,"date":16,"hours":21,"minutes":35}]}, "axis": null},
            "y": {"field": "p", "type": "quantitative", "scale": {"domain": [20748, 23785], "nice": false, "zero": false}}
          },
          "layer": [
            {"mark": {"type": "point", "shape": "M-1,-0.3H1V0.3H-1Z", "size": 289, "fill": "white", "stroke": "#2a2e39", "strokeWidth": 0.6, "opacity": 1}},
            {"mark": {"type": "text", "fontSize": 3.4, "color": "#131722"}, "encoding": {"text": {"field": "label"}}}
          ]
        },
        {
          "data": {"name": "hlines"},
          "transform": [{"filter": "datum.p != 21656"}],
          "encoding": {
            "x": {"datum": {"year":2023,"month":2,"date":17,"hours":17,"minutes":24}, "type": "temporal", "scale": {"domain": [{"year":2023,"month":1,"date":9,"hours":15},{"year":2023,"month":2,"date":16,"hours":21,"minutes":35}]}, "axis": null},
            "y": {"field": "p", "type": "quantitative", "scale": {"domain": [20748, 23785], "nice": false, "zero": false}}
          },
          "layer": [
            {"mark": {"type": "point", "shape": "M-1,-0.28H1V0.28H-1Z", "size": 300, "filled": true, "color": "#2962ff", "opacity": 1}},
            {"mark": {"type": "text", "fontSize": 3.5, "color": "white"}, "encoding": {"text": {"field": "label"}}}
          ]
        },
        {
          "data": {"values": [{"label": "21660.00"}]},
          "encoding": {
            "x": {"datum": {"year":2023,"month":2,"date":17,"hours":17,"minutes":24}, "type": "temporal", "scale": {"domain": [{"year":2023,"month":1,"date":9,"hours":15},{"year":2023,"month":2,"date":16,"hours":21,"minutes":35}]}, "axis": null},
            "y": {"datum": 21664, "type": "quantitative", "scale": {"domain": [20748, 23785], "nice": false, "zero": false}}
          },
          "layer": [
            {"mark": {"type": "point", "shape": "M-1,-0.28H1V0.28H-1Z", "size": 300, "filled": true, "color": "#f23645", "opacity": 1}},
            {"mark": {"type": "text", "fontSize": 3.5, "color": "white"}, "encoding": {"text": {"field": "label"}}}
          ]
        },
        {
          "data": {"values": [{"label": "03:38:41"}]},
          "encoding": {
            "x": {"datum": {"year":2023,"month":2,"date":17,"hours":17,"minutes":24}, "type": "temporal", "scale": {"domain": [{"year":2023,"month":1,"date":9,"hours":15},{"year":2023,"month":2,"date":16,"hours":21,"minutes":35}]}, "axis": null},
            "y": {"datum": 21550, "type": "quantitative", "scale": {"domain": [20748, 23785], "nice": false, "zero": false}}
          },
          "layer": [
            {"mark": {"type": "point", "shape": "M-1,-0.28H1V0.28H-1Z", "size": 300, "filled": true, "color": "#f23645", "opacity": 1}},
            {"mark": {"type": "text", "fontSize": 3.3, "color": "white"}, "encoding": {"text": {"field": "label"}}}
          ]
        },
        {
          "data": {"values": [{"label": "21656.00"}]},
          "encoding": {
            "x": {"datum": {"year":2023,"month":2,"date":17,"hours":17,"minutes":24}, "type": "temporal", "scale": {"domain": [{"year":2023,"month":1,"date":9,"hours":15},{"year":2023,"month":2,"date":16,"hours":21,"minutes":35}]}, "axis": null},
            "y": {"datum": 21440, "type": "quantitative", "scale": {"domain": [20748, 23785], "nice": false, "zero": false}}
          },
          "layer": [
            {"mark": {"type": "point", "shape": "M-1,-0.28H1V0.28H-1Z", "size": 300, "filled": true, "color": "#2962ff", "opacity": 1}},
            {"mark": {"type": "text", "fontSize": 3.5, "color": "white"}, "encoding": {"text": {"field": "label"}}}
          ]
        },
        {
          "data": {"values": [{"label": "BTCUSD"}]},
          "encoding": {
            "x": {"datum": {"year":2023,"month":2,"date":16,"hours":11,"minutes":12}, "type": "temporal", "scale": {"domain": [{"year":2023,"month":1,"date":9,"hours":15},{"year":2023,"month":2,"date":16,"hours":21,"minutes":35}]}, "axis": null},
            "y": {"datum": 21664, "type": "quantitative", "scale": {"domain": [20748, 23785], "nice": false, "zero": false}}
          },
          "layer": [
            {"mark": {"type": "point", "shape": "M-1,-0.36H1V0.36H-1Z", "size": 169, "filled": true, "color": "#f23645", "opacity": 1}},
            {"mark": {"type": "text", "fontSize": 3.2, "color": "white"}, "encoding": {"text": {"field": "label"}}}
          ]
        },
        {
          "data": {"values": [{"label": "Bitcoin / U.S. Dollar · 4h · BITSTAMP"}]},
          "mark": {"type": "text", "align": "left", "fontSize": 3.6, "color": "#50535e"},
          "encoding": {
            "x": {"datum": {"year":2023,"month":1,"date":9,"hours":20,"minutes":39}, "type": "temporal", "scale": {"domain": [{"year":2023,"month":1,"date":9,"hours":15},{"year":2023,"month":2,"date":16,"hours":21,"minutes":35}]}, "axis": null},
            "y": {"datum": 23702, "type": "quantitative", "scale": {"domain": [20748, 23785], "nice": false, "zero": false}},
            "text": {"field": "label"}
          }
        },
        {
          "data": {"values": [{"label": "O21800.00 H21900.00 L21620.00 C21660.00 −140.00 (−0.64%)"}]},
          "mark": {"type": "text", "align": "left", "fontSize": 3.2, "color": "#f23645"},
          "encoding": {
            "x": {"datum": {"year":2023,"month":1,"date":16,"hours":7}, "type": "temporal", "scale": {"domain": [{"year":2023,"month":1,"date":9,"hours":15},{"year":2023,"month":2,"date":16,"hours":21,"minutes":35}]}, "axis": null},
            "y": {"datum": 23702, "type": "quantitative", "scale": {"domain": [20748, 23785], "nice": false, "zero": false}},
            "text": {"field": "label"}
          }
        },
        {
          "data": {"values": [{"label": "21655.80"}]},
          "encoding": {
            "x": {"datum": {"year":2023,"month":1,"date":10,"hours":15,"minutes":28}, "type": "temporal", "scale": {"domain": [{"year":2023,"month":1,"date":9,"hours":15},{"year":2023,"month":2,"date":16,"hours":21,"minutes":35}]}, "axis": null},
            "y": {"datum": 23563, "type": "quantitative", "scale": {"domain": [20748, 23785], "nice": false, "zero": false}}
          },
          "layer": [
            {"mark": {"type": "point", "shape": "M-1,-0.3H1V0.3H-1Z", "size": 324, "fill": "white", "stroke": "#f23645", "strokeWidth": 0.6, "opacity": 1}},
            {"mark": {"type": "text", "fontSize": 3.6, "color": "#f23645"}, "encoding": {"text": {"field": "label"}}}
          ]
        },
        {
          "data": {"values": [{"label": "0.00"}]},
          "mark": {"type": "text", "fontSize": 3.6, "color": "#50535e"},
          "encoding": {
            "x": {"datum": {"year":2023,"month":1,"date":11,"hours":18,"minutes":46}, "type": "temporal", "scale": {"domain": [{"year":2023,"month":1,"date":9,"hours":15},{"year":2023,"month":2,"date":16,"hours":21,"minutes":35}]}, "axis": null},
            "y": {"datum": 23563, "type": "quantitative", "scale": {"domain": [20748, 23785], "nice": false, "zero": false}},
            "text": {"field": "label"}
          }
        },
        {
          "data": {"values": [{"label": "21660.00"}]},
          "encoding": {
            "x": {"datum": {"year":2023,"month":1,"date":12,"hours":23}, "type": "temporal", "scale": {"domain": [{"year":2023,"month":1,"date":9,"hours":15},{"year":2023,"month":2,"date":16,"hours":21,"minutes":35}]}, "axis": null},
            "y": {"datum": 23563, "type": "quantitative", "scale": {"domain": [20748, 23785], "nice": false, "zero": false}}
          },
          "layer": [
            {"mark": {"type": "point", "shape": "M-1,-0.3H1V0.3H-1Z", "size": 324, "fill": "white", "stroke": "#2962ff", "strokeWidth": 0.6, "opacity": 1}},
            {"mark": {"type": "text", "fontSize": 3.6, "color": "#2962ff"}, "encoding": {"text": {"field": "label"}}}
          ]
        },
        {
          "data": {"values": [{"label": "MA 100 close 0 SMA 9"}]},
          "mark": {"type": "text", "align": "left", "fontSize": 3.3, "color": "#50535e"},
          "encoding": {
            "x": {"datum": {"year":2023,"month":1,"date":9,"hours":20,"minutes":39}, "type": "temporal", "scale": {"domain": [{"year":2023,"month":1,"date":9,"hours":15},{"year":2023,"month":2,"date":16,"hours":21,"minutes":35}]}, "axis": null},
            "y": {"datum": 23415, "type": "quantitative", "scale": {"domain": [20748, 23785], "nice": false, "zero": false}},
            "text": {"field": "label"}
          }
        },
        {
          "data": {"values": [{"label": "22970.12"}]},
          "mark": {"type": "text", "align": "left", "fontSize": 3.3, "color": "#2962ff"},
          "encoding": {
            "x": {"datum": {"year":2023,"month":1,"date":13,"hours":3}, "type": "temporal", "scale": {"domain": [{"year":2023,"month":1,"date":9,"hours":15},{"year":2023,"month":2,"date":16,"hours":21,"minutes":35}]}, "axis": null},
            "y": {"datum": 23415, "type": "quantitative", "scale": {"domain": [20748, 23785], "nice": false, "zero": false}},
            "text": {"field": "label"}
          }
        },
        {
          "data": {"values": [{"event": "D"}]},
          "mark": {"type": "point", "shape": "circle", "size": 22, "fill": "#f3e5f5", "stroke": "#ab47bc", "strokeWidth": 0.7, "opacity": 1},
          "encoding": {
            "x": {"datum": {"year":2023,"month":2,"date":9,"hours":20,"minutes":12}, "type": "temporal", "scale": {"domain": [{"year":2023,"month":1,"date":9,"hours":15},{"year":2023,"month":2,"date":16,"hours":21,"minutes":35}]}, "axis": null},
            "y": {"datum": 20822, "type": "quantitative", "scale": {"domain": [20748, 23785], "nice": false, "zero": false}}
          }
        }
      ]
    },
    {
      "width": 488,
      "height": 41,
      "resolve": {"scale": {"color": "independent"}},
      "layer": [
        {
          "data": {"name": "ind"},
          "transform": [{"filter": "datum.h >= 0"}],
          "mark": {"type": "bar", "size": 2.6, "clip": true},
          "encoding": {
            "x": {"field": "t", "type": "temporal", "scale": {"domain": [{"year":2023,"month":1,"date":9,"hours":15},{"year":2023,"month":2,"date":16,"hours":21,"minutes":35}]}, "axis": null},
            "y": {"field": "h", "type": "quantitative", "scale": {"domain": [-295, 636], "nice": false, "zero": false},
                  "axis": {"orient": "right", "values": [-250, 0, 250, 500], "tickCount": 60, "format": ".2f", "labelFontSize": 4.2, "labelColor": "#50535e", "labelPadding": 4, "ticks": false, "domain": false, "grid": false, "title": null, "labelOverlap": false}},
            "y2": {"datum": 0},
            "color": {"field": "trend", "type": "nominal", "legend": null, "scale": {"domain": ["up", "down"], "range": ["#26a69a", "#b2dfdb"]}}
          }
        },
        {
          "data": {"name": "ind"},
          "transform": [{"filter": "datum.h < 0"}],
          "mark": {"type": "bar", "size": 2.6, "clip": true},
          "encoding": {
            "x": {"field": "t", "type": "temporal", "scale": {"domain": [{"year":2023,"month":1,"date":9,"hours":15},{"year":2023,"month":2,"date":16,"hours":21,"minutes":35}]}, "axis": null},
            "y": {"field": "h", "type": "quantitative", "scale": {"domain": [-295, 636], "nice": false, "zero": false}},
            "y2": {"datum": 0},
            "color": {"field": "trend", "type": "nominal", "legend": null, "scale": {"domain": ["down", "up"], "range": ["#ff5252", "#ffcdd2"]}}
          }
        },
        {
          "data": {"name": "ind"},
          "mark": {"type": "line", "color": "#ff6d00", "strokeWidth": 0.8, "clip": true, "interpolate": "monotone"},
          "encoding": {
            "x": {"field": "t", "type": "temporal", "scale": {"domain": [{"year":2023,"month":1,"date":9,"hours":15},{"year":2023,"month":2,"date":16,"hours":21,"minutes":35}]}, "axis": null},
            "y": {"field": "s", "type": "quantitative", "scale": {"domain": [-295, 636], "nice": false, "zero": false}}
          }
        },
        {
          "data": {"name": "ind"},
          "mark": {"type": "line", "color": "#2962ff", "strokeWidth": 0.8, "clip": true, "interpolate": "monotone"},
          "encoding": {
            "x": {"field": "t", "type": "temporal", "scale": {"domain": [{"year":2023,"month":1,"date":9,"hours":15},{"year":2023,"month":2,"date":16,"hours":21,"minutes":35}]}, "axis": null},
            "y": {"field": "m", "type": "quantitative", "scale": {"domain": [-295, 636], "nice": false, "zero": false}}
          }
        },
        {
          "data": {"values": [{"label": "MACD 12 26 close 9 EMA EMA"}]},
          "mark": {"type": "text", "align": "left", "fontSize": 3.6, "color": "#50535e"},
          "encoding": {
            "x": {"datum": {"year":2023,"month":1,"date":9,"hours":20,"minutes":39}, "type": "temporal", "scale": {"domain": [{"year":2023,"month":1,"date":9,"hours":15},{"year":2023,"month":2,"date":16,"hours":21,"minutes":35}]}, "axis": null},
            "y": {"datum": 545, "type": "quantitative", "scale": {"domain": [-295, 636], "nice": false, "zero": false}},
            "text": {"field": "label"}
          }
        },
        {
          "data": {"values": [{"label": "−95.37"}]},
          "mark": {"type": "text", "align": "left", "fontSize": 3.6, "color": "#ff5252"},
          "encoding": {
            "x": {"datum": {"year":2023,"month":1,"date":14,"hours":2,"minutes":18}, "type": "temporal", "scale": {"domain": [{"year":2023,"month":1,"date":9,"hours":15},{"year":2023,"month":2,"date":16,"hours":21,"minutes":35}]}, "axis": null},
            "y": {"datum": 545, "type": "quantitative", "scale": {"domain": [-295, 636], "nice": false, "zero": false}},
            "text": {"field": "label"}
          }
        },
        {
          "data": {"values": [{"label": "−136.42"}]},
          "mark": {"type": "text", "align": "left", "fontSize": 3.6, "color": "#2962ff"},
          "encoding": {
            "x": {"datum": {"year":2023,"month":1,"date":14,"hours":23}, "type": "temporal", "scale": {"domain": [{"year":2023,"month":1,"date":9,"hours":15},{"year":2023,"month":2,"date":16,"hours":21,"minutes":35}]}, "axis": null},
            "y": {"datum": 545, "type": "quantitative", "scale": {"domain": [-295, 636], "nice": false, "zero": false}},
            "text": {"field": "label"}
          }
        },
        {
          "data": {"values": [{"label": "−41.05"}]},
          "mark": {"type": "text", "align": "left", "fontSize": 3.6, "color": "#ff6d00"},
          "encoding": {
            "x": {"datum": {"year":2023,"month":1,"date":16,"hours":7}, "type": "temporal", "scale": {"domain": [{"year":2023,"month":1,"date":9,"hours":15},{"year":2023,"month":2,"date":16,"hours":21,"minutes":35}]}, "axis": null},
            "y": {"datum": 545, "type": "quantitative", "scale": {"domain": [-295, 636], "nice": false, "zero": false}},
            "text": {"field": "label"}
          }
        }
      ]
    },
    {
      "width": 488,
      "height": 29,
      "title": {"text": "1D   5D   1M   3M   6M   YTD   1Y   5Y   All", "orient": "bottom", "anchor": "start", "fontSize": 4.5, "fontWeight": "normal", "color": "#50535e", "offset": 6, "dx": 5},
      "layer": [
        {
          "data": {"values": [{"band": "30-70"}]},
          "mark": {"type": "rect", "color": "#7e57c2", "opacity": 0.1},
          "encoding": {
            "y": {"datum": 30, "type": "quantitative", "scale": {"domain": [25.8, 86.8], "nice": false, "zero": false},
                  "axis": {"orient": "right", "values": [30, 50, 70], "tickCount": 60, "format": ".2f", "labelFontSize": 4.2, "labelColor": "#50535e", "labelPadding": 4, "ticks": false, "domain": false, "grid": false, "title": null, "labelOverlap": false}},
            "y2": {"datum": 70}
          }
        },
        {
          "data": {"values": [{"level": 70}, {"level": 30}]},
          "mark": {"type": "rule", "color": "#9598a1", "strokeWidth": 0.6, "strokeDash": [1.5, 1.5]},
          "encoding": {
            "y": {"field": "level", "type": "quantitative", "scale": {"domain": [25.8, 86.8], "nice": false, "zero": false}}
          }
        },
        {
          "data": {"values": [{"level": 50}]},
          "mark": {"type": "rule", "color": "#b2b5be", "strokeWidth": 0.5, "strokeDash": [1, 2]},
          "encoding": {
            "y": {"field": "level", "type": "quantitative", "scale": {"domain": [25.8, 86.8], "nice": false, "zero": false}}
          }
        },
        {
          "data": {"name": "ind"},
          "mark": {"type": "line", "color": "#f2c94c", "strokeWidth": 0.7, "opacity": 0.7, "clip": true, "interpolate": "monotone"},
          "encoding": {
            "x": {"field": "t", "type": "temporal", "scale": {"domain": [{"year":2023,"month":1,"date":9,"hours":15},{"year":2023,"month":2,"date":16,"hours":21,"minutes":35}]}},
            "y": {"field": "rm", "type": "quantitative", "scale": {"domain": [25.8, 86.8], "nice": false, "zero": false}}
          }
        },
        {
          "data": {"name": "ind"},
          "mark": {"type": "line", "color": "#7e57c2", "strokeWidth": 0.8, "clip": true},
          "encoding": {
            "x": {"field": "t", "type": "temporal", "scale": {"domain": [{"year":2023,"month":1,"date":9,"hours":15},{"year":2023,"month":2,"date":16,"hours":21,"minutes":35}]},
                  "axis": {"values": [{"year":2023,"month":1,"date":11},{"year":2023,"month":1,"date":13},{"year":2023,"month":1,"date":16},{"year":2023,"month":1,"date":18},{"year":2023,"month":1,"date":20},{"year":2023,"month":1,"date":23},{"year":2023,"month":1,"date":25},{"year":2023,"month":1,"date":27},{"year":2023,"month":1,"date":30},{"year":2023,"month":2,"date":1},{"year":2023,"month":2,"date":3},{"year":2023,"month":2,"date":6},{"year":2023,"month":2,"date":8},{"year":2023,"month":2,"date":10}],
                           "tickCount": 60,
                           "labelExpr": "timeFormat(datum.value, '%m-%d') == '02-01' ? 'Feb' : timeFormat(datum.value, '%-d')",
                           "labelFontSize": 4.5, "labelColor": "#50535e", "labelPadding": 3, "ticks": false, "domain": false, "grid": false, "title": null, "labelOverlap": false}},
            "y": {"field": "r", "type": "quantitative", "scale": {"domain": [25.8, 86.8], "nice": false, "zero": false}}
          }
        },
        {
          "data": {"values": [{"label": "RSI 14 close SMA 14 2"}]},
          "mark": {"type": "text", "align": "left", "fontSize": 3.6, "color": "#50535e"},
          "encoding": {
            "x": {"datum": {"year":2023,"month":1,"date":9,"hours":20,"minutes":39}, "type": "temporal", "scale": {"domain": [{"year":2023,"month":1,"date":9,"hours":15},{"year":2023,"month":2,"date":16,"hours":21,"minutes":35}]}},
            "y": {"datum": 82.6, "type": "quantitative", "scale": {"domain": [25.8, 86.8], "nice": false, "zero": false}},
            "text": {"field": "label"}
          }
        },
        {
          "data": {"values": [{"label": "32.10"}]},
          "mark": {"type": "text", "align": "left", "fontSize": 3.6, "color": "#7e57c2"},
          "encoding": {
            "x": {"datum": {"year":2023,"month":1,"date":12,"hours":22}, "type": "temporal", "scale": {"domain": [{"year":2023,"month":1,"date":9,"hours":15},{"year":2023,"month":2,"date":16,"hours":21,"minutes":35}]}},
            "y": {"datum": 82.6, "type": "quantitative", "scale": {"domain": [25.8, 86.8], "nice": false, "zero": false}},
            "text": {"field": "label"}
          }
        },
        {
          "data": {"values": [{"label": "44.50"}]},
          "mark": {"type": "text", "align": "left", "fontSize": 3.6, "color": "#e0b430"},
          "encoding": {
            "x": {"datum": {"year":2023,"month":1,"date":13,"hours":22,"minutes":30}, "type": "temporal", "scale": {"domain": [{"year":2023,"month":1,"date":9,"hours":15},{"year":2023,"month":2,"date":16,"hours":21,"minutes":35}]}},
            "y": {"datum": 82.6, "type": "quantitative", "scale": {"domain": [25.8, 86.8], "nice": false, "zero": false}},
            "text": {"field": "label"}
          }
        },
        {
          "data": {"values": [{"label": "TV TradingView"}]},
          "mark": {"type": "text", "align": "left", "fontSize": 4, "fontWeight": "bold", "color": "#131722"},
          "encoding": {
            "x": {"datum": {"year":2023,"month":1,"date":9,"hours":20,"minutes":39}, "type": "temporal", "scale": {"domain": [{"year":2023,"month":1,"date":9,"hours":15},{"year":2023,"month":2,"date":16,"hours":21,"minutes":35}]}},
            "y": {"datum": 34.2, "type": "quantitative", "scale": {"domain": [25.8, 86.8], "nice": false, "zero": false}},
            "text": {"field": "label"}
          }
        }
      ]
    }
  ]
}
